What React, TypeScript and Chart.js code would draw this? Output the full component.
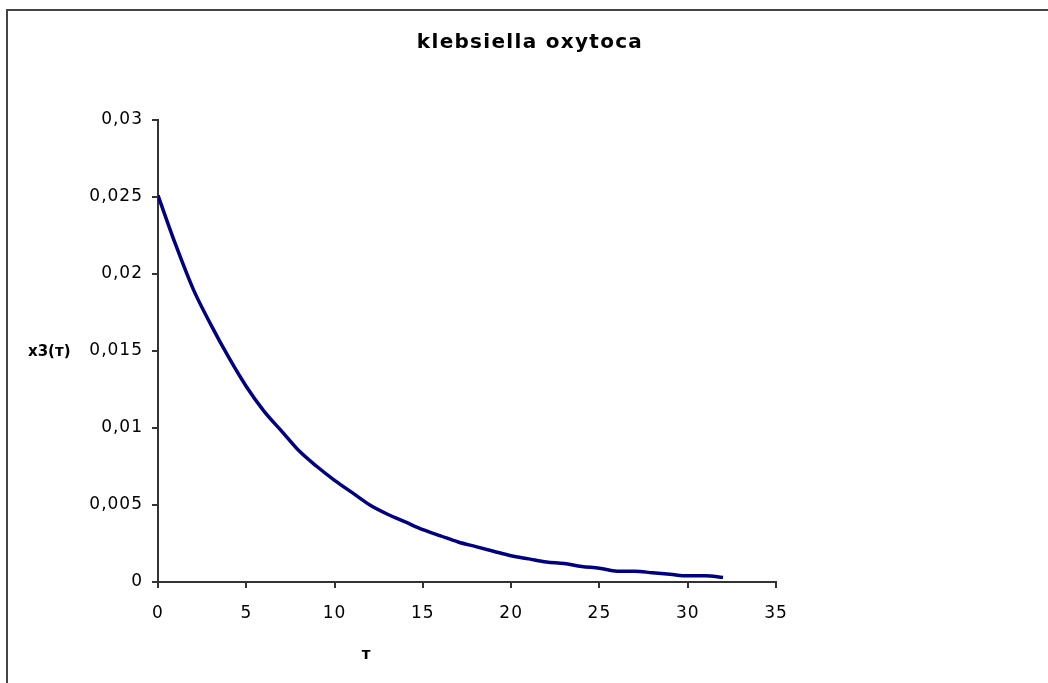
import React, { useEffect, useRef } from "react";
import { Chart, registerables } from "chart.js";

Chart.register(...registerables);

const chartTitle = "klebsiella oxytoca";
const yAxisLabel = "x3(т)";
const xAxisLabel = "т";

const tValues = [0, 1, 2, 3, 4, 5, 6, 7, 8, 9, 10, 11, 12, 13, 14, 15, 16, 17, 18, 19, 20, 21, 22, 23, 24, 25, 26, 27, 28, 29, 30, 31, 32];
const x3Values = [
  0.0251, 0.0219, 0.019, 0.0167, 0.0146, 0.0127, 0.0111, 0.0098, 0.0085, 0.0075,
  0.0066, 0.0058, 0.005, 0.0044, 0.0039, 0.0034, 0.003, 0.0026, 0.0023, 0.002,
  0.0017, 0.0015, 0.0013, 0.0012, 0.001, 0.0009, 0.0007, 0.0007, 0.0006, 0.0005,
  0.0004, 0.0004, 0.0003,
];
const yTickLabels = ["0", "0,005", "0,01", "0,015", "0,02", "0,025", "0,03"];
const xTickLabels = ["0", "5", "10", "15", "20", "25", "30", "35"];

const FONT = "'DejaVu Sans', 'Liberation Sans', Arial, sans-serif";

const textPlugin = {
  id: "textLabels",
  beforeDraw(chart: any) {
    (chart.ctx as any).letterSpacing = "1px";
  },
  afterDraw(chart: any) {
    const ctx = chart.ctx as CanvasRenderingContext2D;
    ctx.save();
    ctx.fillStyle = "#000";
    ctx.textBaseline = "middle";
    (ctx as any).letterSpacing = "1.3px";
    ctx.font = `bold 20px ${FONT}`;
    ctx.textAlign = "center";
    ctx.fillText(chartTitle, 530, 43);
    ctx.font = `bold 15px ${FONT}`;
    (ctx as any).letterSpacing = "0px";
    ctx.textAlign = "left";
    ctx.fillText(yAxisLabel, 28, 352);
    ctx.textAlign = "center";
    ctx.fillText(xAxisLabel, 366, 655);
    ctx.restore();
    (ctx as any).letterSpacing = "0px";
  },
};

export default function App() {
  const canvasRef = useRef<HTMLCanvasElement | null>(null);

  useEffect(() => {
    if (!canvasRef.current) return;
    const chart = new Chart(canvasRef.current, {
      type: "line",
      data: {
        datasets: [
          {
            data: tValues.map((t, i) => ({ x: t, y: x3Values[i] })),
            borderColor: "#000080",
            borderWidth: 3.5,
            pointRadius: 0,
            cubicInterpolationMode: "monotone",
            fill: false,
          },
        ],
      },
      options: {
        animation: false,
        responsive: false,
        maintainAspectRatio: false,
        layout: { padding: { left: 0, top: 120, right: 272, bottom: 0 } },
        plugins: {
          legend: { display: false },
          title: { display: false },
          tooltip: { enabled: false },
        },
        scales: {
          x: {
            type: "linear",
            min: 0,
            max: 35,
            afterFit: (scale: any) => {
              scale.height = 101;
            },
            afterBuildTicks: (scale: any) => {
              scale.ticks = xTickLabels.map((_, i) => ({ value: i * 5 }));
            },
            ticks: {
              callback: (_v: any, i: number) => xTickLabels[i],
              color: "#000",
              font: { family: FONT, size: 17 },
              padding: 15,
              maxRotation: 0,
            },
            grid: {
              display: true,
              drawOnChartArea: false,
              drawTicks: true,
              tickLength: 6,
              color: "#333",
              lineWidth: 2,
            },
            border: { display: true, color: "#333", width: 2 },
          },
          y: {
            type: "linear",
            min: 0,
            max: 0.03,
            afterFit: (scale: any) => {
              scale.width = 158;
            },
            afterBuildTicks: (scale: any) => {
              scale.ticks = yTickLabels.map((_, i) => ({ value: i * 0.005 }));
            },
            ticks: {
              callback: (_v: any, i: number) => yTickLabels[i],
              color: "#000",
              font: { family: FONT, size: 17 },
              padding: 9,
            },
            grid: {
              display: true,
              drawOnChartArea: false,
              drawTicks: true,
              tickLength: 6,
              color: "#333",
              lineWidth: 2,
            },
            border: { display: true, color: "#333", width: 2 },
          },
        },
      },
      plugins: [textPlugin],
    } as any);
    return () => chart.destroy();
  }, []);

  return (
    <div
      style={{
        position: "fixed",
        left: 0,
        top: 0,
        width: 1048,
        height: 683,
        overflow: "hidden",
        background: "#fff",
      }}
    >
      <canvas ref={canvasRef} width={1048} height={683} style={{ display: "block" }} />
      <div
        style={{
          position: "absolute",
          left: 6,
          top: 9,
          width: 1200,
          height: 900,
          borderTop: "2px solid #444",
          borderLeft: "2px solid #444",
          pointerEvents: "none",
        }}
      />
    </div>
  );
}
